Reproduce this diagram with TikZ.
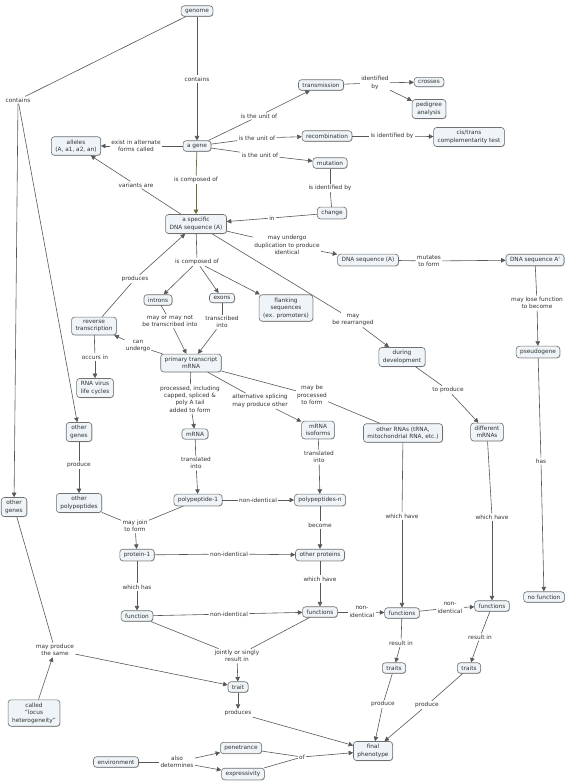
\documentclass[tikz,border=0pt]{standalone}
\usepackage{fontspec}
\setmainfont{DejaVu Sans}
\usetikzlibrary{arrows.meta,shadows}
\definecolor{boxfill}{HTML}{EEF4F7}
\definecolor{boxline}{HTML}{707070}
\definecolor{txt}{HTML}{333333}
\definecolor{lnc}{HTML}{585858}
\definecolor{olv}{HTML}{6E6B3C}
\tikzset{
  box/.style={draw=boxline, line width=0.6pt, fill=boxfill, rounded corners=3pt,
    align=center, inner xsep=4pt, inner ysep=3pt, text=txt,
    font=\fontsize{5.8}{7.4}\selectfont,
    drop shadow={shadow xshift=0.6pt, shadow yshift=-0.6pt, fill=black, opacity=0.25}},
  lab/.style={align=center, inner sep=1.2pt, text=txt, font=\fontsize{5.8}{7.4}\selectfont},
  ln/.style={draw=lnc, line width=0.6pt},
  arr/.style={ln, -{Triangle[length=4.5pt,width=4.5pt]}},
  oln/.style={draw=olv, line width=0.7pt},
  oarr/.style={oln, -{Triangle[length=4.5pt,width=4.5pt]}}
}
\begin{document}
\begin{tikzpicture}[x=1pt,y=-1pt]
\fill[white] (0,0) rectangle (567,784);
\useasboundingbox (0,0) rectangle (567,784);
% nodes
\node[box] (genome) at (197,11) {genome};
\node[lab] (lc1) at (18,100) {contains};
\node[lab] (lc2) at (197,79) {contains};
\node[box] (gene) at (197,146) {a gene};
\node[box] (alleles) at (76,146) {alleles\\(A, a1, a2, an)};
\node[lab] (lexist) at (136,146) {exist in alternate\\forms called};
\node[lab] (lu1) at (259,116) {is the unit of};
\node[lab] (lu2) at (257,138) {is the unit of};
\node[lab] (lu3) at (260,155) {is the unit of};
\node[box] (trans) at (321,85) {transmission};
\node[lab] (lidby) at (375,83) {identified\\by};
\node[box] (crosses) at (429,82) {crosses};
\node[box] (pedigree) at (429,109) {pedigree\\analysis};
\node[box] (recomb) at (327,136) {recombination};
\node[lab] (lisid1) at (392,136) {is identified by};
\node[box] (cistrans) at (469,137) {cis/trans\\complementarity test};
\node[box] (mutation) at (330,163) {mutation};
\node[lab] (lisid2) at (330,188) {is identified by};
\node[box] (change) at (332,213) {change};
\node[lab] (lin) at (272,218) {in};
\node[lab] (lcomp1) at (196,180) {is composed of};
\node[lab] (lvar) at (136,185) {variants are};
\node[box] (dna) at (196,224) {a specific\\DNA sequence (A)};
\node[lab] (ldup) at (287,245) {may undergo\\duplication to produce\\identical};
\node[box] (dnaA) at (368,260) {DNA sequence (A)};
\node[lab] (lmut) at (429,261) {mutates\\to form};
\node[box] (dnaAp) at (535,260) {DNA sequence A\textquotesingle};
\node[lab] (llose) at (537,303) {may lose function\\to become};
\node[box] (pseudo) at (538,352) {pseudogene};
\node[lab] (lhas) at (541,461) {has};
\node[box] (nofunc) at (544,597) {no function};
\node[lab] (lcomp2) at (197,262) {is composed of};
\node[lab] (lprod1) at (135,279) {produces};
\node[box] (introns) at (158,300) {introns};
\node[box] (exons) at (222,298) {exons};
\node[box] (flank) at (286,308) {flanking\\sequences\\(ex. promoters)};
\node[box] (revtr) at (94,326) {reverse\\transcription};
\node[lab] (lmay) at (170,321) {may or may not\\be transcribed into};
\node[lab] (ltrinto) at (222,322) {transcribed\\into};
\node[lab] (lcan) at (138,346) {can\\undergo};
\node[lab] (loccurs) at (95,357) {occurs in};
\node[box] (pt) at (191,363) {primary transcript\\mRNA};
\node[box] (rnavirus) at (95,388) {RNA virus\\life cycles};
\node[lab] (lrearr) at (353,320) {may\\be rearranged};
\node[box] (devel) at (402,357) {during\\development};
\node[lab] (ltoprod) at (448,390) {to produce};
\node[lab] (lproc) at (190,399) {processed, including\\capped, spliced \&\\poly A tail\\added to form};
\node[lab] (lalt) at (260,401) {alternative splicing\\may produce other};
\node[lab] (lmaybe) at (312,395) {may be\\processed\\to form};
\node[box] (mrna) at (195,434) {mRNA};
\node[box] (iso) at (318,430) {mRNA\\isoforms};
\node[box] (other) at (403,433) {other RNAs (tRNA,\\mitochondrial RNA, etc.)};
\node[box] (diff) at (487,432) {different\\mRNAs};
\node[box] (og1) at (79,432) {other\\genes};
\node[lab] (lproduce) at (79,465) {produce};
\node[box] (opoly) at (79,503) {other\\polypeptides};
\node[lab] (ltr1) at (196,463) {translated\\into};
\node[lab] (ltr2) at (319,457) {translated\\into};
\node[box] (poly1) at (198,500) {polypeptide-1};
\node[lab] (lni1) at (258,500) {non-identical};
\node[box] (polyn) at (320,500) {polypeptides-n};
\node[lab] (lbecome) at (320,525) {become};
\node[box] (og2) at (14,507) {other\\genes};
\node[lab] (ljoin) at (135,526) {may join\\to form};
\node[box] (prot1) at (137,555) {protein-1};
\node[lab] (lni2) at (229,554) {non-identical};
\node[box] (oprot) at (320,555) {other proteins};
\node[lab] (lwhichhas) at (137,587) {which has};
\node[lab] (lwh1) at (320,579) {which have};
\node[lab] (lwh2) at (402,516) {which have};
\node[lab] (lwh3) at (492,517) {which have};
\node[box] (function) at (137,616) {function};
\node[lab] (lni3) at (229,614) {non-identical};
\node[box] (f1) at (320,612) {functions};
\node[lab] (lni4) at (362,612) {non-\\identical};
\node[box] (f2) at (402,613) {functions};
\node[lab] (lni5) at (450,608) {non-\\identical};
\node[box] (f3) at (492,606) {functions};
\node[lab] (lres1) at (401,643) {result in};
\node[lab] (lres2) at (480,637) {result in};
\node[box] (traits1) at (394,668) {traits};
\node[box] (traits2) at (469,668) {traits};
\node[lab] (ljoint) at (237,656) {jointly or singly\\result in};
\node[lab] (lsame) at (55,650) {may produce\\the same};
\node[box] (trait) at (238,687) {trait};
\node[box] (locus) at (34,713) {called\\"locus\\heterogeneity"};
\node[lab] (lproduces) at (238,713) {produces};
\node[lab] (lprod2) at (383,704) {produce};
\node[lab] (lprod3) at (427,705) {produce};
\node[box] (final) at (373,751) {final\\phenotype};
\node[box] (pen) at (241,748) {penetrance};
\node[box] (env) at (116,762) {environment};
\node[lab] (lalso) at (177,762) {also\\determines};
\node[box] (expr) at (243,774) {expressivity};
\node[lab] (lof) at (302,757) {of};
% connectors
\draw[ln] (genome) -- (lc1);
\draw[arr] (lc1) -- (og1);
\draw[arr] (lc1) -- (og2);
\draw[ln] (genome) -- (lc2); \draw[arr] (lc2) -- (gene);
\draw[ln] (gene) -- (lu1); \draw[arr] (lu1) -- (trans);
\draw[ln] (gene) -- (lu2); \draw[arr] (lu2) -- (recomb);
\draw[ln] (gene) -- (lu3); \draw[arr] (lu3) -- (mutation);
\draw[ln] (gene) -- (lexist); \draw[arr] (lexist) -- (alleles);
\draw[oln] (gene) -- (lcomp1); \draw[oarr] (lcomp1) -- (dna);
\draw[ln] (trans) -- (lidby); \draw[arr] (lidby) -- (crosses); \draw[arr] (lidby) -- (pedigree);
\draw[ln] (recomb) -- (lisid1); \draw[arr] (lisid1) -- (cistrans);
\draw[ln] (mutation) -- (lisid2); \draw[ln] (lisid2) -- (change);
\draw[ln] (change) -- (lin); \draw[arr] (lin) -- (dna);
\draw[ln] (dna) -- (lvar); \draw[arr] (lvar) -- (alleles);
\draw[ln] (dna) -- (ldup); \draw[arr] (ldup) -- (dnaA);
\draw[ln] (dnaA) -- (lmut); \draw[arr] (lmut) -- (dnaAp);
\draw[ln] (dnaAp) -- (llose); \draw[arr] (llose) -- (pseudo);
\draw[ln] (pseudo) -- (lhas); \draw[arr] (lhas) -- (nofunc);
\draw[ln] (dna) -- (lcomp2);
\draw[arr] (lcomp2) -- (introns); \draw[arr] (lcomp2) -- (exons); \draw[arr] (lcomp2) -- (flank);
\draw[ln] (dna) -- (lrearr); \draw[arr] (lrearr) -- (devel);
\draw[ln] (devel) -- (ltoprod); \draw[arr] (ltoprod) -- (diff);
\draw[ln] (revtr) -- (lprod1); \draw[arr] (lprod1) -- (dna);
\draw[ln] (revtr) -- (loccurs); \draw[arr] (loccurs) -- (rnavirus);
\draw[ln] (pt) -- (lcan); \draw[arr] (lcan) -- (revtr);
\draw[ln] (introns) -- (lmay); \draw[arr] (lmay) -- (pt);
\draw[ln] (exons) -- (ltrinto); \draw[arr] (ltrinto) -- (pt);
\draw[ln] (pt) -- (lproc); \draw[arr] (lproc) -- (mrna);
\draw[ln] (pt) -- (lalt); \draw[arr] (lalt) -- (iso);
\draw[ln] (pt) -- (lmaybe); \draw[ln] (lmaybe) -- (other);
\draw[ln] (mrna) -- (ltr1); \draw[arr] (ltr1) -- (poly1);
\draw[ln] (iso) -- (ltr2); \draw[arr] (ltr2) -- (polyn);
\draw[ln] (poly1) -- (lni1); \draw[arr] (lni1) -- (polyn);
\draw[ln] (polyn) -- (lbecome); \draw[arr] (lbecome) -- (oprot);
\draw[ln] (poly1) -- (ljoin); \draw[ln] (opoly) -- (ljoin); \draw[arr] (ljoin) -- (prot1);
\draw[ln] (og1) -- (lproduce); \draw[arr] (lproduce) -- (opoly);
\draw[ln] (prot1) -- (lni2); \draw[arr] (lni2) -- (oprot);
\draw[ln] (prot1) -- (lwhichhas); \draw[arr] (lwhichhas) -- (function);
\draw[ln] (oprot) -- (lwh1); \draw[arr] (lwh1) -- (f1);
\draw[ln] (function) -- (lni3); \draw[arr] (lni3) -- (f1);
\draw[ln] (f1) -- (lni4); \draw[arr] (lni4) -- (f2);
\draw[ln] (f2) -- (lni5); \draw[arr] (lni5) -- (f3);
\draw[ln] (other) -- (lwh2); \draw[arr] (lwh2) -- (f2);
\draw[ln] (diff) -- (lwh3); \draw[arr] (lwh3) -- (f3);
\draw[ln] (function) -- (ljoint); \draw[ln] (f1) -- (ljoint); \draw[arr] (ljoint) -- (trait);
\draw[ln] (og2) -- (lsame); \draw[arr] (lsame) -- (trait);
\draw[arr] (locus) -- (lsame);
\draw[arr] (trait) -- (lproduces); \draw[arr] (lproduces) -- (final);
\draw[ln] (f2) -- (lres1); \draw[arr] (lres1) -- (traits1);
\draw[ln] (f3) -- (lres2); \draw[arr] (lres2) -- (traits2);
\draw[ln] (traits1) -- (lprod2); \draw[arr] (lprod2) -- (final);
\draw[ln] (traits2) -- (lprod3); \draw[arr] (lprod3) -- (final);
\draw[ln] (env) -- (lalso); \draw[arr] (lalso) -- (pen); \draw[arr] (lalso) -- (expr);
\draw[ln] (pen) -- (lof); \draw[ln] (expr) -- (lof); \draw[arr] (lof) -- (final);
\end{tikzpicture}
\end{document}
